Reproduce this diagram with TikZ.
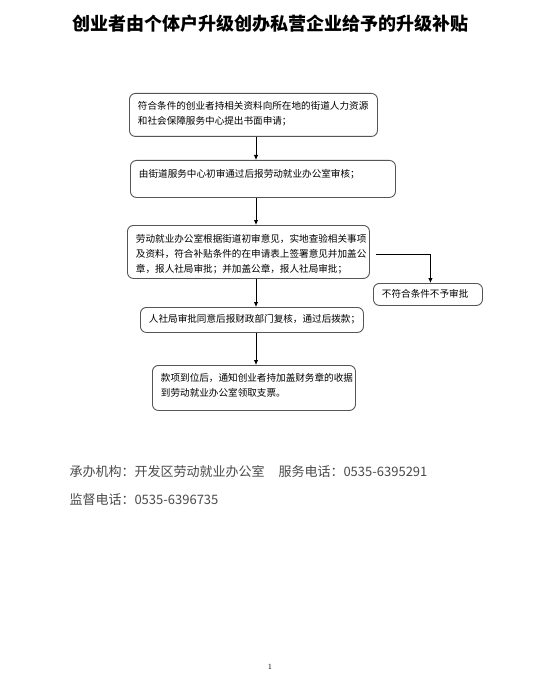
\documentclass[tikz,border=0pt]{standalone}
\usepackage{fontspec}
\newfontfamily\cjk{Noto Sans CJK SC}
\usetikzlibrary{arrows.meta}
\definecolor{boxline}{HTML}{555555}
\definecolor{foot}{HTML}{4A4A4A}
\tikzset{
  flowbox/.style={draw=boxline, line width=0.9pt, rounded corners=6pt, anchor=north west,
    inner xsep=8.5pt, inner ysep=0pt, align=left,
    font=\cjk\fontsize{9.6}{15}\selectfont},
  flowarrow/.style={draw=black, line width=0.8pt, -{Latex[length=5pt,width=4.5pt]}},
}
\begin{document}
\begin{tikzpicture}[x=1pt,y=-1pt]
\useasboundingbox[fill=white] (0,0) rectangle (540,687);
\node[font=\cjk\bfseries\fontsize{18}{22}\selectfont] (title) at (270.5,24) {创业者由个体户升级创办私营企业给予的升级补贴};

\node[flowbox, text width=231pt, text height=16.5pt, text depth=26.5pt] (b1) at (129,93)
  {符合条件的创业者持相关资料向所在地的街道人力资源\\和社会保障服务中心提出书面申请；};
\node[flowbox, text width=248pt, text height=17pt, text depth=20pt] (b2) at (130,160)
  {由街道服务中心初审通过后报劳动就业办公室审核；};
\node[flowbox, text width=225pt, text height=17.5pt, text depth=35.5pt] (b3) at (127,225)
  {劳动就业办公室根据街道初审意见，实地查验相关事项\\及资料，符合补贴条件的在申请表上签署意见并加盖公\\章，报人社局审批；并加盖公章，报人社局审批；};
\node[flowbox, text width=92pt, text height=14.5pt, text depth=7.5pt] (b4) at (373,283)
  {不符合条件不予审批};
\node[flowbox, text width=206pt, text height=15pt, text depth=10pt] (b5) at (140,307)
  {人社局审批同意后报财政部门复核，通过后拨款；};
\node[flowbox, text width=186pt, text height=16pt, text depth=29pt] (b6) at (152,365)
  {款项到位后，通知创业者持加盖财务章的收据\\到劳动就业办公室领取支票。};

\coordinate (col) at (256,0);
\draw[flowarrow] (b1.south -| col) -- (b2.north -| col);
\draw[flowarrow] (b2.south -| col) -- (b3.north -| col);
\draw[flowarrow] (b3.south -| col) -- (b5.north -| col);
\draw[flowarrow] (b5.south -| col) -- (b6.north -| col);
\draw[flowarrow] ([shift={(6,2.5)}]b3.east) -| ([xshift=2.5pt]b4.north);

\node[anchor=base west, text=foot, font=\cjk\fontsize{13}{15}\selectfont] (f1) at (66,476.5)
  {承办机构：开发区劳动就业办公室\hspace{14pt}服务电话：0535-6395291};
\node[anchor=base west, text=foot, font=\cjk\fontsize{13}{15}\selectfont] (f2) at (66,504.5)
  {监督电话：0535-6396735};
\node[font=\fontsize{8}{10}\selectfont] (pg) at (270,667) {1};
\end{tikzpicture}
\end{document}
